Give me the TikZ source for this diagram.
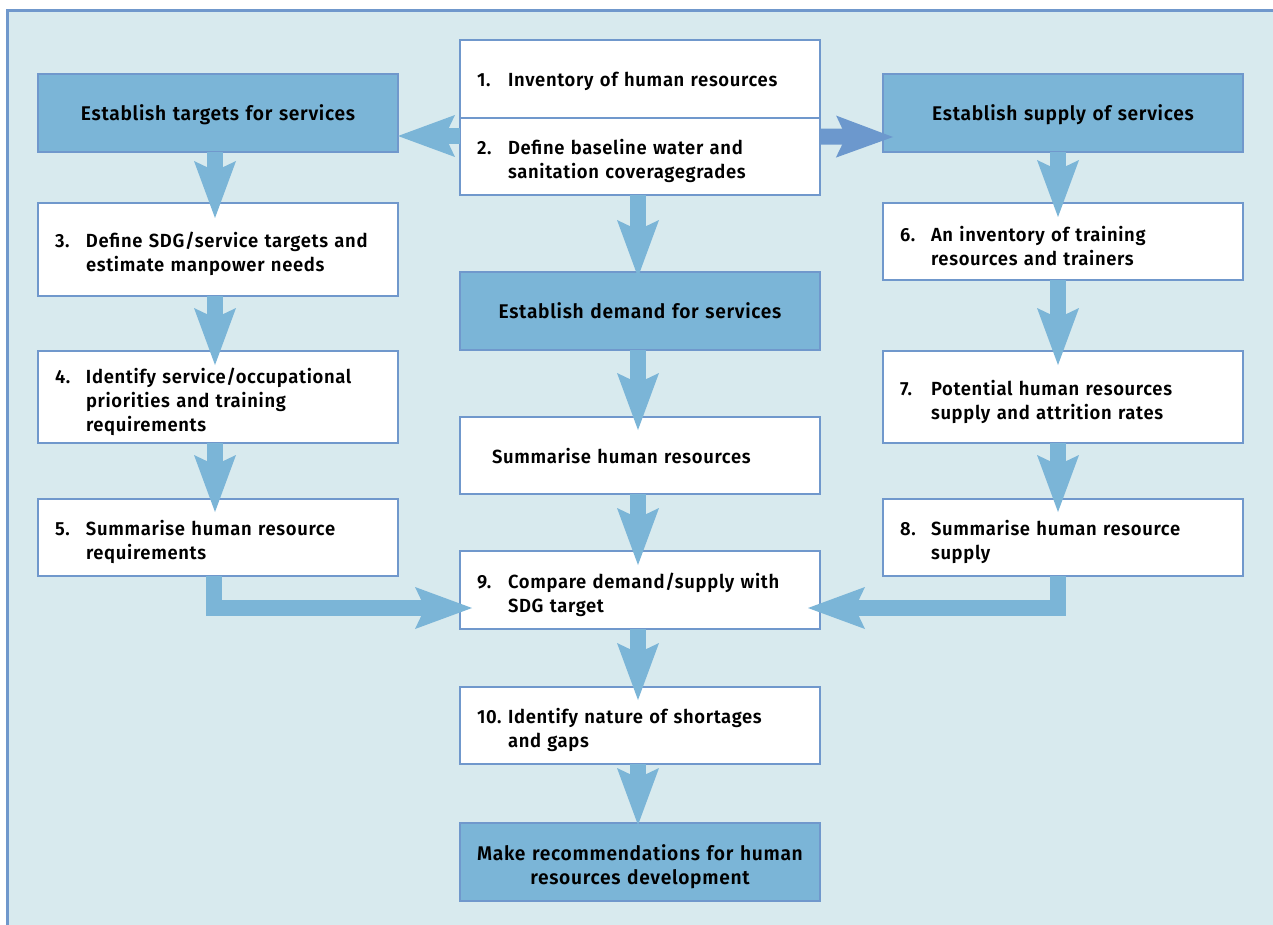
\documentclass[tikz,border=0pt]{standalone}
\usepackage{fontspec}
\setmainfont{Fira Sans}[UprightFont={* SemiBold}, FakeStretch=0.97, LetterSpace=3.5]
\usetikzlibrary{arrows.meta}
\definecolor{bg}{RGB}{216,234,238}
\definecolor{hdr}{RGB}{123,181,215}
\definecolor{bord}{RGB}{112,152,204}
\definecolor{arr}{RGB}{123,181,215}
\definecolor{arrd}{RGB}{108,152,205}
\newcommand\fs{\fontsize{19}{24}\selectfont}
\newcommand\hs{\fontsize{19.8}{24}\selectfont}
\newcommand\nm[1]{\makebox[31pt][l]{#1}}
\newcommand\ind{\hspace*{31pt}}
\tikzset{
 wbox/.style={draw=bord, line width=2pt, fill=white, anchor=north west, outer sep=0pt,
   inner ysep=0pt, inner xsep=17pt, text width=326pt, align=left, font=\fs,
   execute at end node={\vspace*{-9pt}}},
 hbox/.style={wbox, fill=hdr, align=center, font=\hs},
 hboxone/.style={hbox, execute at end node={\vspace*{-13pt}}},
 fat/.style={draw=arr, line width=16pt, line join=miter,
   -{Stealth[length=57pt,width=42pt,inset=10pt,line width=0pt]}},
 fatd/.style={fat, draw=arrd},
}
\begin{document}
\begin{tikzpicture}[x=1pt,y=-1pt]
\useasboundingbox (0,0) rectangle (1273,925);
\fill[bg] (6,9) rectangle (1273,925);
\draw[bord, line width=3pt] (7.5,925) -- (7.5,10.5) -- (1273,10.5);

\node[wbox, minimum height=78] (b1) at (460,40) {\nm{1.}Inventory of human resources};
\node[wbox, minimum height=77] (b2) at (460,118) {\nm{2.}Define baseline water and\\\ind sanitation coveragegrades};
\node[hboxone, minimum height=78] (tg) at (38,74) {Establish targets for services};
\node[hboxone, minimum height=78] (sp) at (883,74) {Establish supply of services};
\node[wbox, minimum height=93] (b3) at (38,203) {\nm{3.}Define SDG/service targets and\\\ind estimate manpower needs};
\node[wbox, minimum height=92] (b4) at (38,351) {\nm{4.}Identify service/occupational\\\ind priorities and training\\\ind requirements};
\node[wbox, minimum height=77] (b5) at (38,499) {\nm{5.}Summarise human resource\\\ind requirements};
\node[hboxone, minimum height=78] (dm) at (460,272) {Establish demand for services};
\node[wbox, minimum height=77, inner xsep=32pt, text width=296pt] (sm) at (460,417) {Summarise human resources};
\node[wbox, minimum height=78] (b9) at (460,551) {\nm{9.}Compare demand/supply with\\\ind SDG target};
\node[wbox, minimum height=77] (b10) at (460,687) {\nm{10.}Identify nature of shortages\\\ind and gaps};
\node[hbox, minimum height=78] (rc) at (460,823) {Make recommendations for human\\resources development};
\node[wbox, minimum height=77] (b6) at (883,203) {\nm{6.}An inventory of training\\\ind resources and trainers};
\node[wbox, minimum height=92] (b7) at (883,351) {\nm{7.}Potential human resources\\\ind supply and attrition rates};
\node[wbox, minimum height=77] (b8) at (883,499) {\nm{8.}Summarise human resource\\\ind supply};

% horizontal arrows from box 2
\draw[fat] ([yshift=20.5]b2.west) -- ([yshift=-23]tg.east);
\draw[fatd] ([yshift=20]b2.east) -- ([xshift=10,yshift=-24]sp.west);
% left column
\draw[fat] ([xshift=-3]tg.south) -- ([xshift=-3,yshift=-15]b3.north);
\draw[fat] ([xshift=-3]b3.south) -- ([xshift=-3,yshift=-14]b4.north);
\draw[fat] ([xshift=-3]b4.south) -- ([xshift=-3,yshift=-13]b5.north);
% centre column
\draw[fat] ([xshift=-2]b2.south) -- ([xshift=-2,yshift=-5]dm.north);
\draw[fat] ([xshift=-2]dm.south) -- ([xshift=-2,yshift=-13]sm.north);
\draw[fat] ([xshift=-2]sm.south) -- ([xshift=-2,yshift=-14]b9.north);
\draw[fat] ([xshift=-2]b9.south) -- ([xshift=-2,yshift=-13]b10.north);
\draw[fat] ([xshift=-2]b10.south) -- ([xshift=-2,yshift=-2]rc.north);
% right column
\draw[fat] ([xshift=-5]sp.south) -- ([xshift=-5,yshift=-14]b6.north);
\draw[fat] ([xshift=-5]b6.south) -- ([xshift=-5,yshift=-14]b7.north);
\draw[fat] ([xshift=-5]b7.south) -- ([xshift=-5,yshift=-13]b8.north);
% elbows into box 9
\draw[fat] ([xshift=-4.5]b5.south) |- ([xshift=12,yshift=-18]b9.west);
\draw[fat] ([xshift=-5]b8.south) |- ([xshift=-12,yshift=-18]b9.east);
\end{tikzpicture}
\end{document}
